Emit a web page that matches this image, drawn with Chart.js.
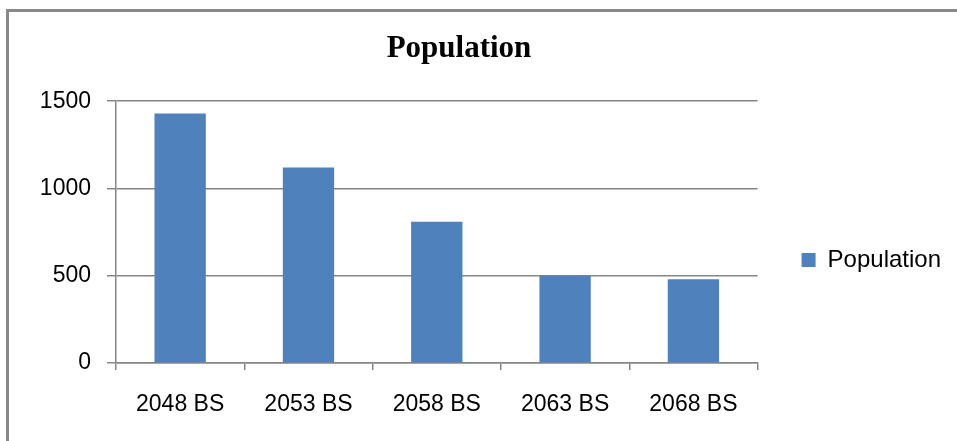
<!DOCTYPE html>
<html>
<head>
<meta charset="utf-8">
<script src="https://cdn.jsdelivr.net/npm/chart.js@4.4.1/dist/chart.umd.min.js"></script>
<style>
  html, body { margin: 0; padding: 0; background: #fff; }
  body { width: 957px; height: 441px; overflow: hidden; position: relative; }
  /* outer frame of the chart, only top and left edges show */
  #frame { position: absolute; left: 6px; top: 9px; width: 1200px; height: 800px;
           border-left: 3px solid #888; border-top: 3px solid #888; }
  #wrap { position: absolute; left: -40px; top: 0; width: 1007px; height: 520px; }
</style>
</head>
<body>
<div id="frame"></div>
<div id="wrap"><canvas id="myChart" width="1007" height="520"></canvas></div>
<script>
// =====> Data <=====
const categories = ['2048 BS', '2053 BS', '2058 BS', '2063 BS', '2068 BS'];
const population = [1430, 1120, 810, 500, 480];
const seriesName = 'Population';
const yTicks = [0, 500, 1000, 1500];

const gray = '#868686';
Chart.defaults.font.family = "'Liberation Sans', Arial, sans-serif";
Chart.defaults.color = '#000';

const ctx = document.getElementById('myChart').getContext('2d');

const chart = new Chart(ctx, {
    type: 'bar',
    data: {
        labels: categories,
        datasets: [{
            label: seriesName,
            data: population,
            backgroundColor: '#4F81BD',
            borderWidth: 0,
            barPercentage: 0.4,
            categoryPercentage: 1
        }]
    },
    options: {
        responsive: false,
        animation: false,
        devicePixelRatio: 1,
        layout: { padding: { left: 7, right: 16, top: 0, bottom: 0 } },
        scales: {
            x: {
                offset: true,
                grid: { offset: true, drawOnChartArea: false, color: gray, lineWidth: 1.5, tickLength: 7, tickColor: gray },
                border: { color: gray, width: 1.5 },
                ticks: { font: { size: 23 }, padding: 21, maxRotation: 0 },
                afterFit: s => { s.height = 157; }
            },
            y: {
                min: 0,
                max: yTicks[yTicks.length - 1],
                grid: { color: gray, lineWidth: 1.5, tickLength: 9, tickColor: gray },
                border: { color: gray, width: 1.5 },
                ticks: {
                    stepSize: yTicks[1] - yTicks[0],
                    font: { size: 23 },
                    padding: 16,
                    callback: v => String(v)
                },
                afterFit: s => { s.width = 149; }
            }
        },
        plugins: {
            title: {
                display: true,
                text: 'Population',
                color: '#000',
                font: { family: "'Liberation Serif', 'Times New Roman', serif", size: 31, weight: 'bold' },
                padding: { top: 30, bottom: 34 }
            },
            legend: {
                position: 'right',
                labels: { boxWidth: 14, boxHeight: 14, padding: 44, font: { size: 24 } }
            },
            tooltip: { enabled: false }
        }
    }
});
</script>
</body>
</html>
